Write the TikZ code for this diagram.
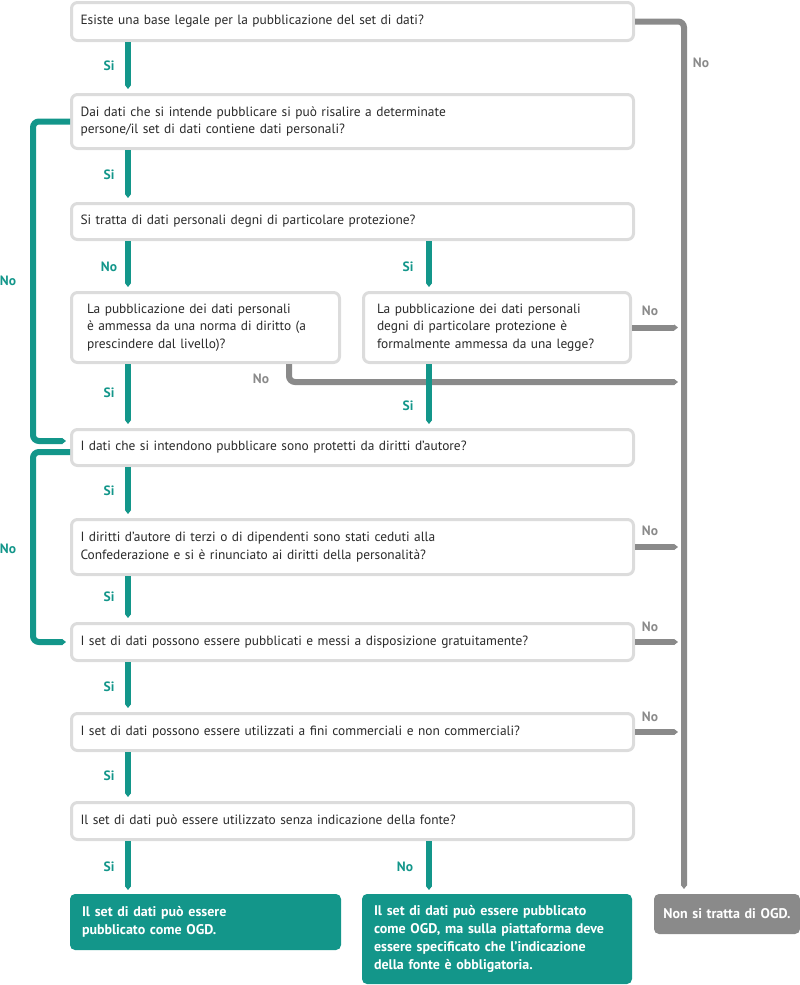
\documentclass[tikz,border=0pt]{standalone}
\usepackage{fontspec}
\setmainfont{PT Sans}
\newfontfamily\qfont[WordSpace=0.8]{PT Sans}
\usetikzlibrary{arrows.meta}
\definecolor{tealc}{HTML}{13968A}
\definecolor{greyc}{HTML}{8A8A8A}
\definecolor{bord}{HTML}{DCDCDC}
\definecolor{txt}{HTML}{2A2A2A}
\begin{document}
\begin{tikzpicture}[x=1pt,y=-1pt,
  ibox/.style={draw=bord, line width=3pt, rounded corners=6pt, fill=white, anchor=north west,
    align=left, inner xsep=9pt, inner ysep=0pt, text=txt, font=\qfont\fontsize{13.4}{17.5}\selectfont},
  fbox/.style={rounded corners=5pt, anchor=north west, align=left, inner xsep=12pt, inner ysep=0pt,
    outer sep=0pt, text=white, font=\bfseries\fontsize{14}{18}\selectfont},
  tlab/.style={text=tealc, inner sep=0pt, font=\bfseries\fontsize{13.5}{15}\selectfont},
  glab/.style={text=greyc, inner sep=0pt, font=\bfseries\fontsize{13.5}{15}\selectfont},
  tarr/.style={draw=tealc, line width=6pt, -{Triangle[length=4pt,width=6pt]}, shorten >=4pt},
  garr/.style={draw=greyc, line width=6pt, -{Triangle[length=4pt,width=6pt]}},
]
\useasboundingbox (0,0) rectangle (800,985);

% column coordinates
\coordinate (cA) at (128,0);
\coordinate (cB) at (429,0);
\coordinate (cL) at (33,0);
\coordinate (cR) at (684,0);
\coordinate (cT) at (678,0);
\coordinate (cN) at (289,0);
\coordinate (yN) at (0,382);
\coordinate (yIn) at (0,441);
\coordinate (yOut) at (0,452);

% boxes
\node[ibox, text width=544pt, minimum height=38pt] (b1) at (70,1)
  {Esiste una base legale per la pubblicazione del set di dati?};
\node[ibox, text width=544pt, minimum height=54pt] (b2) at (70,93)
  {Dai dati che si intende pubblicare si può risalire a determinate\\persone/il set di dati contiene dati personali?};
\node[ibox, text width=544pt, minimum height=36pt] (b3) at (70,202)
  {Si tratta di dati personali degni di particolare protezione?};
\node[ibox, inner xsep=15.5pt, text width=237pt, minimum height=70pt] (b4a) at (70,291)
  {La pubblicazione dei dati personali\\è ammessa da una norma di diritto (a\\prescindere dal livello)?};
\node[ibox, inner xsep=13.5pt, text width=240pt, minimum height=70pt] (b4b) at (362,291)
  {La pubblicazione dei dati personali\\degni di particolare protezione è\\formalmente ammessa da una legge?};
\node[ibox, text width=544pt, minimum height=36pt] (b5) at (70,428)
  {I dati che si intendono pubblicare sono protetti da diritti d’autore?};
\node[ibox, text width=544pt, minimum height=55pt] (b6) at (70,518)
  {I diritti d’autore di terzi o di dipendenti sono stati ceduti alla\\Confederazione e si è rinunciato ai diritti della personalità?};
\node[ibox, text width=544pt, minimum height=37pt] (b7) at (70,622)
  {I set di dati possono essere pubblicati e messi a disposizione gratuitamente?};
\node[ibox, text width=544pt, minimum height=37pt] (b8) at (70,712)
  {I set di dati possono essere utilizzati a fini commerciali e non commerciali?};
\node[ibox, text width=544pt, minimum height=37pt] (b9) at (70,801)
  {Il set di dati può essere utilizzato senza indicazione della fonte?};

\node[fbox, fill=tealc, text width=247pt, minimum height=56pt] (g1) at (70,894)
  {Il set di dati può essere\\pubblicato come OGD.};
\node[fbox, fill=tealc, text width=246pt, minimum height=90pt] (g2) at (362,894)
  {Il set di dati può essere pubblicato\\come OGD, ma sulla piattaforma deve\\essere specificato che l’indicazione\\della fonte è obbligatoria.};
\node[fbox, fill=greyc, align=center, inner xsep=0pt, text width=146pt, minimum height=40pt] (gr) at (654,894)
  {Non si tratta di OGD.};

% grey connectors
\draw[garr, rounded corners=6pt, shorten >=5pt] (b1.east) -| (cR |- gr.north);
\draw[garr, rounded corners=6pt] (b4a.south -| cN) |- (cT |- yN);
\draw[garr] (b4b.east) -- (cT |- b4b.east);
\draw[garr] (b6.east) -- (cT |- b6.east);
\draw[garr] (b7.east) -- (cT |- b7.east);
\draw[garr] (b8.east) -- (cT |- b8.east);

% teal connectors
\draw[tarr] (cA |- b1.south) -- (cA |- b2.north);
\draw[tarr] (cA |- b2.south) -- (cA |- b3.north);
\draw[tarr] (cA |- b3.south) -- (cA |- b4a.north);
\draw[tarr] (cB |- b3.south) -- (cB |- b4b.north);
\draw[tarr] (cA |- b4a.south) -- (cA |- b5.north);
\draw[tarr] (cB |- b4b.south) -- (cB |- b5.north);
\draw[tarr] (cA |- b5.south) -- (cA |- b6.north);
\draw[tarr] (cA |- b6.south) -- (cA |- b7.north);
\draw[tarr] (cA |- b7.south) -- (cA |- b8.north);
\draw[tarr] (cA |- b8.south) -- (cA |- b9.north);
\draw[tarr] (cA |- b9.south) -- (cA |- g1.north);
\draw[tarr] (cB |- b9.south) -- (cB |- g2.north);
\draw[tarr, rounded corners=6pt] (b2.west) -- (b2.west -| cL) -- (cL |- yIn) -- (b5.west |- yIn);
\draw[tarr, rounded corners=6pt] (b5.west |- yOut) -- (cL |- yOut) -- (cL |- b7.west) -- (b7.west);

% labels
\node[tlab] (l1) at (109,66) {Si};
\node[tlab] (l2) at (109,175) {Si};
\node[tlab] (l3) at (109,267) {No};
\node[tlab] (l4) at (408,267) {Si};
\node[tlab] (l5) at (109,393) {Si};
\node[tlab] (l6) at (408,406) {Si};
\node[tlab] (l7) at (109,491) {Si};
\node[tlab] (l8) at (109,597) {Si};
\node[tlab] (l9) at (109,687) {Si};
\node[tlab] (l10) at (109,776) {Si};
\node[tlab] (l11) at (109,867) {Si};
\node[tlab] (l12) at (405,867) {No};
\node[tlab] (l13) at (8,281) {No};
\node[tlab] (l14) at (8,549) {No};
\node[glab] (n1) at (701,63) {No};
\node[glab] (n2) at (650,311) {No};
\node[glab] (n3) at (261,379) {No};
\node[glab] (n4) at (650,531) {No};
\node[glab] (n5) at (650,627) {No};
\node[glab] (n6) at (650,717) {No};
\end{tikzpicture}
\end{document}
